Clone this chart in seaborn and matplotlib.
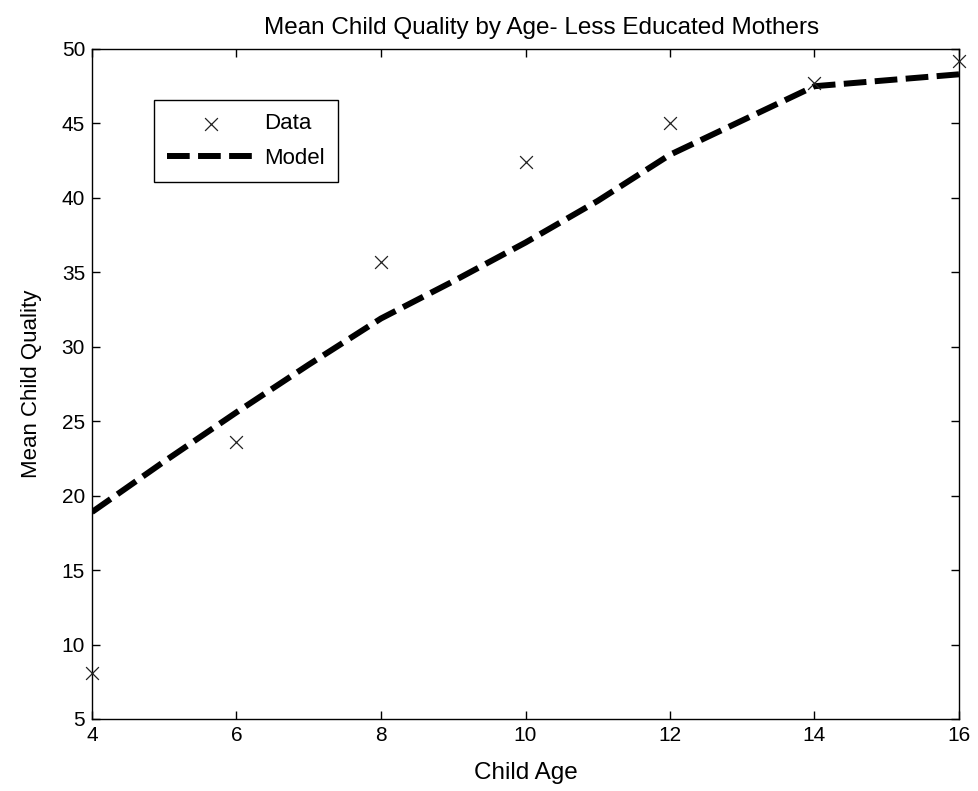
import matplotlib
matplotlib.use("Agg")
import matplotlib.pyplot as plt
import seaborn as sns
import pandas as pd

# Observed mean child quality by age
data_age = [4, 6, 8, 10, 12, 14, 16]
data_quality = [8.1, 23.6, 35.7, 42.4, 45.0, 47.7, 49.2]

# Model-predicted mean child quality, one value per year of age
model_age = [4, 5, 6, 7, 8, 9, 10, 11, 12, 13, 14, 15, 16]
model_quality = [18.9, 22.3, 25.6, 28.8, 31.9, 34.4, 37.0, 39.8, 42.9, 45.2, 47.5, 47.9, 48.3]

x_ticks = [4, 6, 8, 10, 12, 14, 16]
y_ticks = [5, 10, 15, 20, 25, 30, 35, 40, 45, 50]

sns.set_theme(style="ticks")
plt.rcParams["font.family"] = ["Liberation Sans", "DejaVu Sans"]
plt.rcParams["xtick.direction"] = "in"
plt.rcParams["ytick.direction"] = "in"
plt.rcParams["text.color"] = "black"
plt.rcParams["axes.labelcolor"] = "black"
plt.rcParams["axes.titlecolor"] = "black"

df_data = pd.DataFrame({"age": data_age, "quality": data_quality})
df_model = pd.DataFrame({"age": model_age, "quality": model_quality})

fig = plt.figure(figsize=(9.79, 7.91), dpi=100)
ax = fig.add_axes([92 / 979, 1 - 719 / 791, 867 / 979, 670 / 791])

sns.scatterplot(data=df_data, x="age", y="quality", marker="x", s=85,
                color="#222222", linewidth=0.9, ax=ax, label="Data", zorder=3,
                clip_on=False)
sns.lineplot(data=df_model, x="age", y="quality", color="black", linewidth=4.3,
             dashes=False, ax=ax, label="Model", zorder=2)
line = ax.lines[-1]
line.set_dashes((3.8, 1.4))
line.set_dash_capstyle("butt")

ax.set_xlim(4, 16)
ax.set_ylim(5, 50)
ax.set_xticks(x_ticks)
ax.set_yticks(y_ticks)
ax.tick_params(axis="both", which="both", direction="in", length=6, width=1,
               top=True, right=True, labelsize=15, colors="black", pad=5)
for side in ax.spines.values():
    side.set_color("black")
    side.set_linewidth(1)

ax.set_xlabel("Child Age", fontsize=17.5, labelpad=12, color="black")
ax.set_ylabel("Mean Child Quality", fontsize=16, labelpad=14, color="black")
ax.set_title("Mean Child Quality by Age- Less Educated Mothers", fontsize=17.5,
             pad=11, x=0.519, color="black")

leg = ax.legend(loc="upper left", bbox_to_anchor=(62 / 867, 619 / 670),
                borderaxespad=0, frameon=True, fancybox=False, framealpha=1,
                edgecolor="black", fontsize=16, handlelength=3.9,
                borderpad=0.6, labelspacing=0.6, handletextpad=0.45,
                labelcolor="black")
leg.get_frame().set_linewidth(1)

fig.savefig("out.png", dpi=100, facecolor="white")
